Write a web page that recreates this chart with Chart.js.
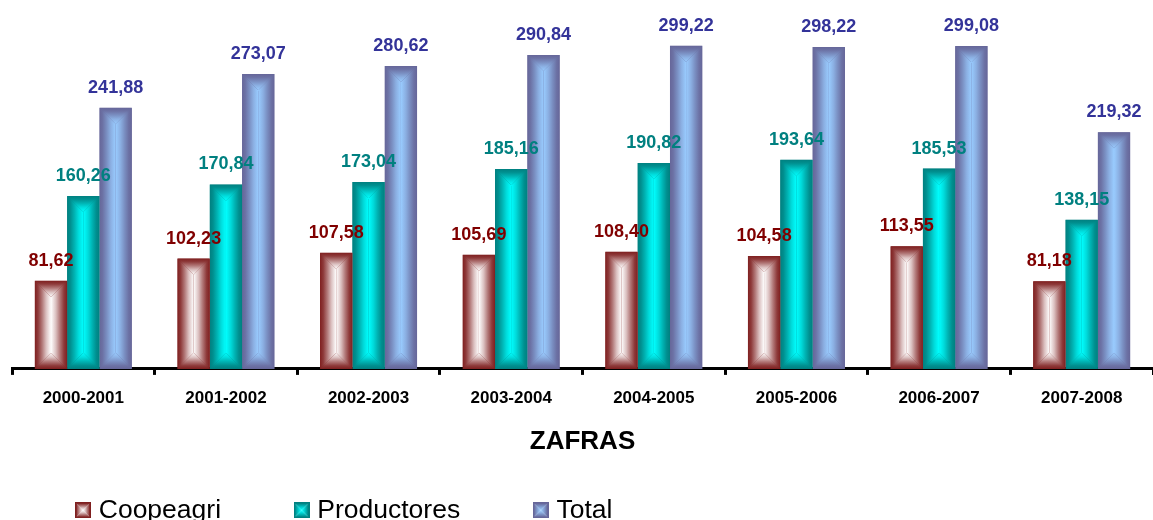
<!DOCTYPE html>
<html>
<head>
<meta charset="utf-8">
<script src="https://cdn.jsdelivr.net/npm/chart.js@4.4.1/dist/chart.umd.min.js"></script>
<style>
  html, body { margin: 0; padding: 0; background: #ffffff; }
  #wrap { width: 1153px; height: 520px; position: relative; }
</style>
</head>
<body>
<div id="wrap"><canvas id="c"></canvas></div>
<script>
// ---- data ----
const categories = ['2000-2001','2001-2002','2002-2003','2003-2004','2004-2005','2005-2006','2006-2007','2007-2008'];
const coopeagri   = [81.62, 102.23, 107.58, 105.69, 108.40, 104.58, 113.55, 81.18];
const productores = [160.26, 170.84, 173.04, 185.16, 190.82, 193.64, 185.53, 138.15];
const total       = [241.88, 273.07, 280.62, 290.84, 299.22, 298.22, 299.08, 219.32];
const seriesNames = ['Coopeagri', 'Productores', 'Total'];
const axisTitle = 'ZAFRAS';

// ---- styles ----
const edgeColors   = ['#7f1f1f', '#008080', '#666699'];
const centerColors = ['#ffffff', '#00ffff', '#99ccff'];
const labelColors  = ['#800000', '#008080', '#333399'];
const FONT = "'Liberation Sans', Arial, Helvetica, sans-serif";

function hexToRgb(h) {
  h = h.replace('#', '');
  return [parseInt(h.substr(0, 2), 16), parseInt(h.substr(2, 2), 16), parseInt(h.substr(4, 2), 16)];
}
function mix(a, b, f) {
  const A = hexToRgb(a), B = hexToRgb(b);
  return 'rgb(' + A.map((v, i) => Math.round(v + (B[i] - v) * f)).join(',') + ')';
}
const profile = [[0, 0], [0.2, 0.12], [0.45, 0.4], [0.7, 0.72], [1, 1]];

function fillShapeGradient(ctx, left, top, right, bottom, edge, center) {
  const w = right - left, h = bottom - top;
  if (w <= 0 || h <= 0) return;
  const cx = (left + right) / 2, cy = (top + bottom) / 2;
  const r = Math.min(w, h) / 2;
  const iTop = h >= w ? top + r : cy, iBot = h >= w ? bottom - r : cy;
  const iLeft = w > h ? left + r : cx, iRight = w > h ? right - r : cx;
  function poly(pts, g) {
    ctx.beginPath();
    ctx.moveTo(pts[0][0], pts[0][1]);
    for (let i = 1; i < pts.length; i++) ctx.lineTo(pts[i][0], pts[i][1]);
    ctx.closePath();
    ctx.fillStyle = g;
    ctx.fill();
  }
  function grad(x0, y0, x1, y1) {
    const g = ctx.createLinearGradient(x0, y0, x1, y1);
    profile.forEach(p => g.addColorStop(p[0], mix(edge, center, p[1])));
    return g;
  }
  ctx.save();
  ctx.beginPath();
  ctx.rect(left, top, w, h);
  ctx.clip();
  poly([[left, top], [iLeft, iTop], [iLeft, iBot], [left, bottom]], grad(left, 0, iLeft, 0));
  poly([[right, top], [iRight, iTop], [iRight, iBot], [right, bottom]], grad(right, 0, iRight, 0));
  poly([[left, top], [right, top], [iRight, iTop], [iLeft, iTop]], grad(0, top, 0, iTop));
  poly([[left, bottom], [right, bottom], [iRight, iBot], [iLeft, iBot]], grad(0, bottom, 0, iBot));
  ctx.restore();
}

// legend swatches
const swatches = edgeColors.map((e, i) => {
  const s = 16;
  const cv = document.createElement('canvas');
  cv.width = s; cv.height = s;
  const cx = cv.getContext('2d');
  fillShapeGradient(cx, 0, 0, s, s, e, centerColors[i]);
  cx.strokeStyle = e;
  cx.lineWidth = 1.5;
  cx.strokeRect(0.75, 0.75, s - 1.5, s - 1.5);
  return cv;
});

const gradientBars = {
  id: 'gradientBars',
  afterDatasetDraw(chart, args) {
    const ctx = chart.ctx;
    const i = args.index;
    args.meta.data.forEach(el => {
      const p = el.getProps(['x', 'y', 'base', 'width'], true);
      fillShapeGradient(ctx, p.x - p.width / 2, Math.min(p.y, p.base), p.x + p.width / 2, Math.max(p.y, p.base), edgeColors[i], centerColors[i]);
    });
  }
};

const valueLabels = {
  id: 'valueLabels',
  afterDatasetsDraw(chart) {
    const ctx = chart.ctx;
    ctx.save();
    ctx.font = "bold 18px " + FONT;
    ctx.textAlign = 'center';
    ctx.textBaseline = 'alphabetic';
    chart.data.datasets.forEach((ds, i) => {
      const meta = chart.getDatasetMeta(i);
      meta.data.forEach((el, j) => {
        const p = el.getProps(['x', 'y'], true);
        ctx.fillStyle = labelColors[i];
        ctx.fillText(ds.data[j].toFixed(2).replace('.', ','), p.x, p.y - 15);
      });
    });
    ctx.restore();
  }
};

// wider spacing between legend entries, keeping the legend low on the page
const LEGEND_FIT_PAD = 10, LEGEND_DRAW_PAD = 78;
const legendSpacing = {
  id: 'legendSpacing',
  afterLayout(chart) {
    const lg = chart.legend;
    if (!lg) return;
    lg.options.labels.padding = LEGEND_DRAW_PAD;
    lg.top = 497 - LEGEND_DRAW_PAD;
    lg.left -= 9.5;
  },
  afterDraw(chart) {
    const lg = chart.legend;
    if (lg) lg.options.labels.padding = LEGEND_FIT_PAD;
  }
};

const datasets = [coopeagri, productores, total].map((d, i) => ({
  label: seriesNames[i],
  data: d,
  backgroundColor: edgeColors[i],
  borderWidth: 0,
  categoryPercentage: 0.68,
  barPercentage: 1.0
}));

new Chart(document.getElementById('c'), {
  type: 'bar',
  data: { labels: categories, datasets },
  options: {
    responsive: true,
    maintainAspectRatio: false,
    animation: false,
    events: [],
    layout: { padding: { top: 4, left: 12, right: 0, bottom: 0 } },
    scales: {
      x: {
        grid: { display: true, drawOnChartArea: false, drawTicks: true, tickLength: 6, tickWidth: 3, tickColor: '#000', offset: true },
        border: { display: true, color: '#000', width: 3 },
        ticks: { color: '#000', font: { family: FONT, size: 17, weight: 'bold' }, padding: 13, maxRotation: 0 },
        title: { display: true, text: axisTitle, color: '#000', font: { family: FONT, size: 26, weight: 'bold' }, padding: { top: 5, bottom: 16 } }
      },
      y: { display: false, min: 0, max: 338 }
    },
    plugins: {
      tooltip: { enabled: false },
      legend: {
        position: 'bottom',
        align: 'start',
        labels: {
          color: '#000',
          font: { family: FONT, size: 26.5 },
          usePointStyle: true,
          pointStyleWidth: 5,
          boxWidth: 5,
          boxHeight: 16,
          padding: LEGEND_FIT_PAD,
          generateLabels(chart) {
            const items = Chart.defaults.plugins.legend.labels.generateLabels(chart);
            items.forEach((it, k) => { it.pointStyle = swatches[k]; });
            return items;
          }
        }
      }
    }
  },
  plugins: [gradientBars, valueLabels, legendSpacing]
});
</script>
</body>
</html>
